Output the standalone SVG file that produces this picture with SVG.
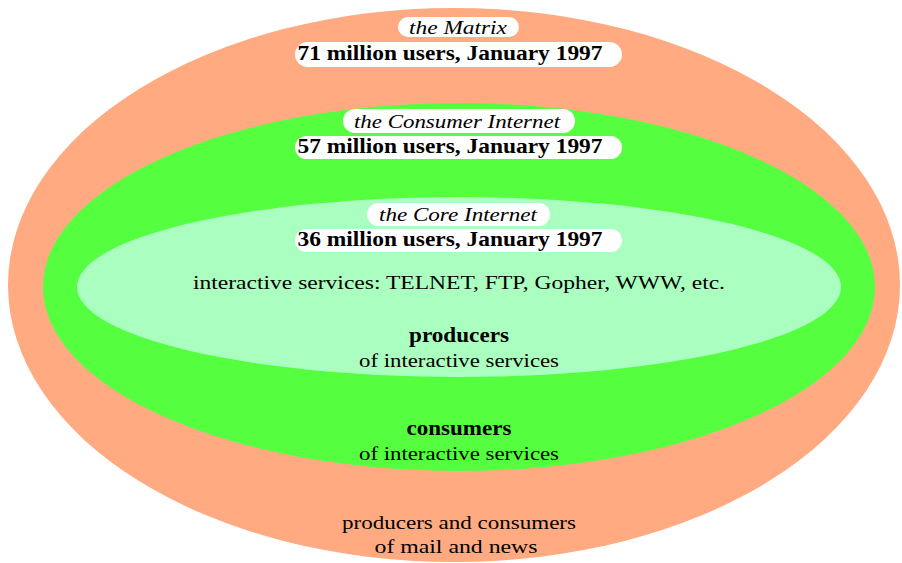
<svg xmlns="http://www.w3.org/2000/svg" width="902" height="563" viewBox="0 0 902 563">
<style>
.pill{fill:#ffffff}
.it{font-family:"Liberation Serif",serif;font-style:italic;font-size:19px;fill:#000;text-anchor:middle}
.bd{font-family:"Liberation Serif",serif;font-weight:bold;font-size:20px;fill:#000;text-anchor:middle}
.rg{font-family:"Liberation Serif",serif;font-size:19px;fill:#000;text-anchor:middle}
</style>
<rect width="902" height="563" fill="#ffffff"/>
<g id="matrix">
<ellipse cx="454" cy="285" rx="446" ry="277" fill="#FFAA80"/>
<rect class="pill" x="398" y="17" width="121" height="20" rx="10"/>
<rect class="pill" x="295" y="42" width="327" height="25" rx="12.5"/>
<text class="it" x="458" y="34" textLength="98" lengthAdjust="spacingAndGlyphs">the Matrix</text>
<text class="bd" x="450" y="60" textLength="305" lengthAdjust="spacingAndGlyphs">71 million users, January 1997</text>
<text class="rg" x="459" y="529" textLength="234" lengthAdjust="spacingAndGlyphs">producers and consumers</text>
<text class="rg" x="456" y="553" textLength="163" lengthAdjust="spacingAndGlyphs">of mail and news</text>
</g>
<g id="consumer-internet">
<ellipse cx="459" cy="287" rx="416" ry="184" fill="#55FF40"/>
<rect class="pill" x="343" y="109" width="232" height="24" rx="12"/>
<rect class="pill" x="295" y="136" width="327" height="23" rx="11.5"/>
<text class="it" x="457" y="128" textLength="206" lengthAdjust="spacingAndGlyphs">the Consumer Internet</text>
<text class="bd" x="450" y="153" textLength="305" lengthAdjust="spacingAndGlyphs">57 million users, January 1997</text>
<text class="bd" x="459" y="435" textLength="105" lengthAdjust="spacingAndGlyphs">consumers</text>
<text class="rg" x="459" y="460" textLength="200" lengthAdjust="spacingAndGlyphs">of interactive services</text>
</g>
<g id="core-internet">
<ellipse cx="459" cy="287" rx="382" ry="90" fill="#AAFFC0"/>
<rect class="pill" x="367" y="203" width="183" height="23" rx="11.5"/>
<rect class="pill" x="295" y="229" width="327" height="23" rx="11.5"/>
<text class="it" x="458" y="221" textLength="158" lengthAdjust="spacingAndGlyphs">the Core Internet</text>
<text class="bd" x="450" y="246" textLength="305" lengthAdjust="spacingAndGlyphs">36 million users, January 1997</text>
<text class="rg" x="459" y="289" font-size="20" textLength="532" lengthAdjust="spacingAndGlyphs">interactive services: TELNET, FTP, Gopher, WWW, etc.</text>
<text class="bd" x="459" y="342" textLength="100" lengthAdjust="spacingAndGlyphs">producers</text>
<text class="rg" x="459" y="367" textLength="200" lengthAdjust="spacingAndGlyphs">of interactive services</text>
</g>
<g id="connectors"></g>
</svg>
